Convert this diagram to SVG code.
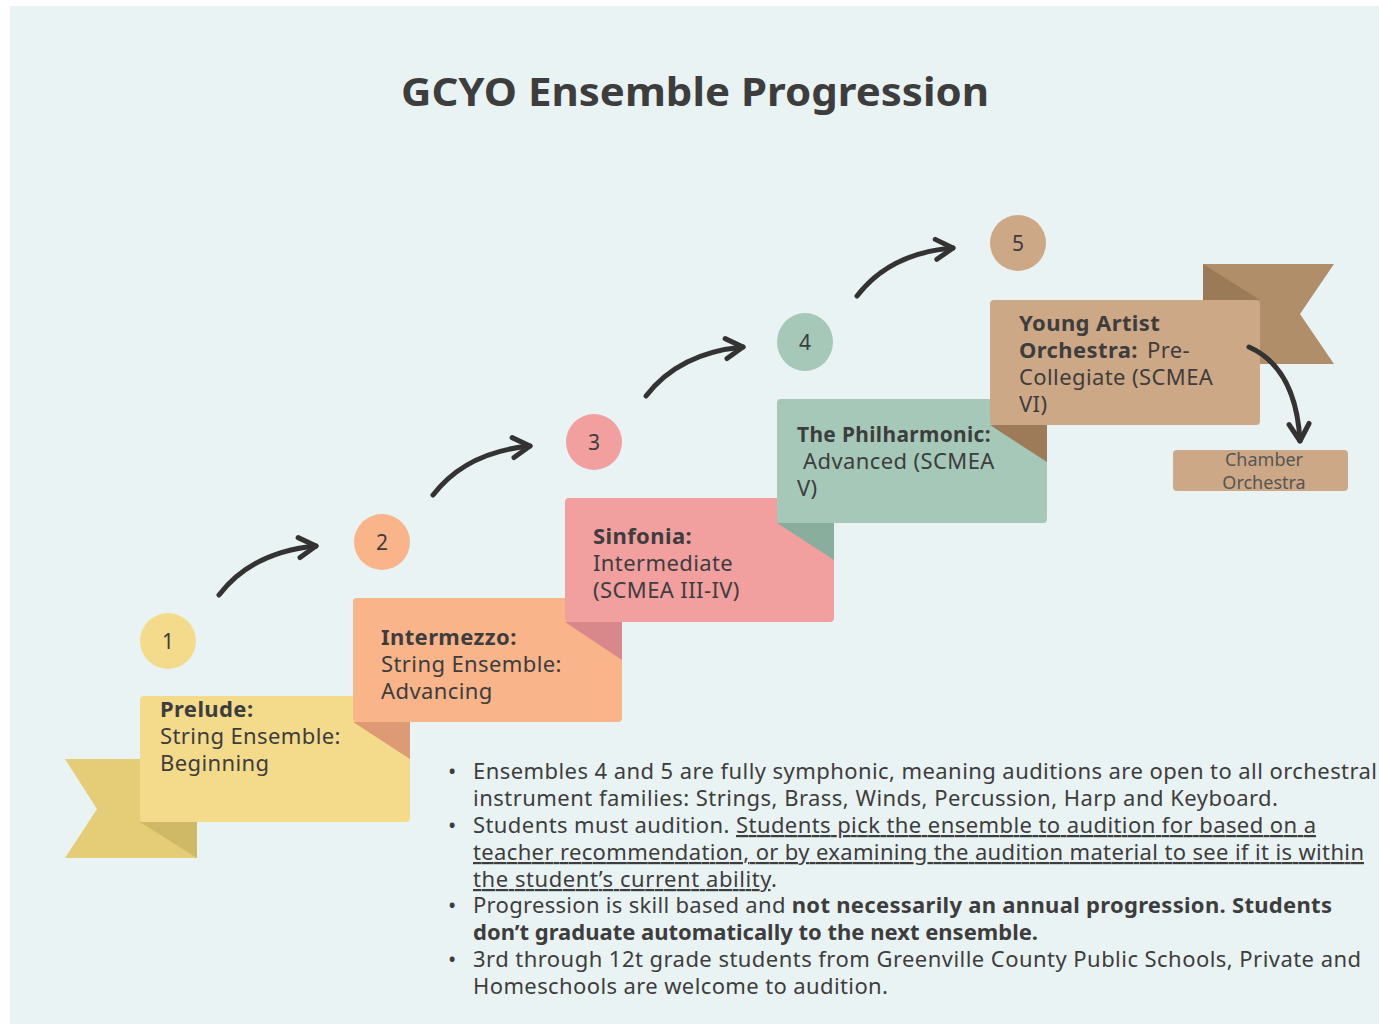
<svg xmlns="http://www.w3.org/2000/svg" width="1379" height="1026" viewBox="0 0 1379 1026">
<defs>
<marker id="chev" markerUnits="userSpaceOnUse" viewBox="0 0 26 26" refX="21" refY="13" markerWidth="26" markerHeight="26" orient="auto" overflow="visible">
<path d="M4,3 L21,13 L4,23" fill="none" stroke="#333333" stroke-width="5" stroke-linecap="round" stroke-linejoin="round"/>
</marker>
<style>
.t{font-family:"Noto Sans","Liberation Sans",sans-serif;fill:#3d3d3d;font-size:22px;letter-spacing:0.4px}
.b{font-weight:bold}
.num{font-family:"Noto Sans","Liberation Sans",sans-serif;fill:#3d3d3d;font-size:21px;text-anchor:middle}
.bl{font-family:"Noto Sans","Liberation Sans",sans-serif;fill:#3d3d3d;font-size:22px}
.u{text-decoration:underline}
.arr{fill:none;stroke:#333333;stroke-width:5;stroke-linecap:round;marker-end:url(#chev)}
</style>
</defs>
<rect x="0" y="0" width="1379" height="1026" fill="#ffffff"/>
<rect x="10" y="6" width="1369" height="1018" fill="#EAF3F4"/>
<text x="695" y="106" class="t b" style="font-size:40px;letter-spacing:0" text-anchor="middle" textLength="588" lengthAdjust="spacingAndGlyphs">GCYO Ensemble Progression</text>

<g id="step1">
<polygon points="65,759 197,759 197,858 65,858 97,809" fill="#E5CC76"/>
<polygon points="140,822 197,822 197,858" fill="#CFB866"/>
<rect x="140" y="696" width="270" height="126" rx="4" fill="#F4DB8C"/>
<text class="t" x="160" y="717"><tspan class="b">Prelude:</tspan><tspan x="160" dy="27">String Ensemble:</tspan><tspan x="160" dy="27">Beginning</tspan></text>
<circle cx="168" cy="641" r="28" fill="#F4DB8C"/>
<text class="num" x="168" y="649">1</text>
</g>

<g id="step2">
<polygon points="353,722 410,722 410,759" fill="#DE9A74"/>
<rect x="353" y="598" width="269" height="124" rx="4" fill="#F9B48A"/>
<text class="t" x="381" y="645"><tspan class="b">Intermezzo:</tspan><tspan x="381" dy="27">String Ensemble:</tspan><tspan x="381" dy="27">Advancing</tspan></text>
<circle cx="382" cy="542" r="28" fill="#F9B48A"/>
<text class="num" x="382" y="550">2</text>
</g>

<g id="step3">
<polygon points="565,622 622,622 622,660" fill="#D8888B"/>
<rect x="565" y="498" width="269" height="124" rx="4" fill="#F29FA0"/>
<text class="t" x="593" y="544"><tspan class="b">Sinfonia:</tspan><tspan x="593" dy="27">Intermediate</tspan><tspan x="593" dy="27">(SCMEA III-IV)</tspan></text>
<circle cx="594" cy="442" r="28" fill="#F29FA0"/>
<text class="num" x="594" y="450">3</text>
</g>

<g id="step4">
<polygon points="777,523 834,523 834,560" fill="#8AAE9E"/>
<rect x="777" y="399" width="270" height="124" rx="4" fill="#A5C8B8"/>
<text class="t b" x="797" y="442" textLength="194" lengthAdjust="spacingAndGlyphs">The Philharmonic:</text>
<text class="t" x="803" y="469">Advanced (SCMEA<tspan x="797" dy="27">V)</tspan></text>
<ellipse cx="805" cy="342" rx="28" ry="29" fill="#A5C8B8"/>
<text class="num" x="805" y="350">4</text>
</g>

<g id="step5">
<polygon points="1203,264 1334,264 1300,314 1334,364 1203,364" fill="#B08E6A"/>
<polygon points="1203,264 1260,300 1203,300" fill="#9B7A57"/>
<polygon points="990,425 1047,425 1047,462" fill="#9E7B58"/>
<rect x="990" y="300" width="270" height="125" rx="4" fill="#CDA886"/>
<text class="t" x="1019" y="331"><tspan class="b">Young Artist</tspan><tspan x="1019" dy="27" class="b">Orchestra:</tspan><tspan x="1147">Pre-</tspan><tspan x="1019" dy="27">Collegiate (SCMEA</tspan><tspan x="1019" dy="27">VI)</tspan></text>
<circle cx="1018" cy="243" r="28" fill="#CDA886"/>
<text class="num" x="1018" y="251">5</text>
</g>

<g id="chamber">
<rect x="1173" y="450" width="175" height="41" rx="4" fill="#CDA886"/>
<text class="num" style="font-size:18px;fill:#555555" x="1264" y="466">Chamber</text>
<text class="num" style="font-size:18px;fill:#555555" x="1264" y="489">Orchestra</text>
</g>

<g id="connectors">
<path class="arr" d="M219,595 Q252,552 316,546"/>
<path class="arr" d="M433,495 Q466,452 530,446"/>
<path class="arr" d="M646,396 Q679,353 743,347"/>
<path class="arr" d="M857,296 Q890,253 953,248"/>
<path class="arr" d="M1249,347 Q1296,368 1300,441"/>
</g>

<g id="notes">
<text class="bl" x="448" y="779">•</text>
<text class="bl" x="473" y="779" textLength="904">Ensembles 4 and 5 are fully symphonic, meaning auditions are open to all orchestral</text>
<text class="bl" x="473" y="806" textLength="805">instrument families: Strings, Brass, Winds, Percussion, Harp and Keyboard.</text>
<text class="bl" x="448" y="833">•</text>
<text class="bl" x="473" y="833" textLength="843">Students must audition. <tspan class="u">Students pick the ensemble to audition for based on a</tspan></text>
<text class="bl u" x="473" y="860" textLength="891">teacher recommendation, or by examining the audition material to see if it is within</text>
<text class="bl" x="473" y="887" textLength="304"><tspan class="u">the student’s current ability</tspan>.</text>
<text class="bl" x="448" y="913">•</text>
<text class="bl" x="473" y="913" textLength="859">Progression is skill based and <tspan class="b">not necessarily an annual progression.  Students</tspan></text>
<text class="bl b" x="473" y="940" textLength="565">don’t graduate automatically to the next ensemble.</text>
<text class="bl" x="448" y="967">•</text>
<text class="bl" x="473" y="967" textLength="888">3rd through 12t grade students from Greenville County Public Schools, Private and</text>
<text class="bl" x="473" y="994" textLength="415">Homeschools are welcome to audition.</text>
</g>
</svg>
